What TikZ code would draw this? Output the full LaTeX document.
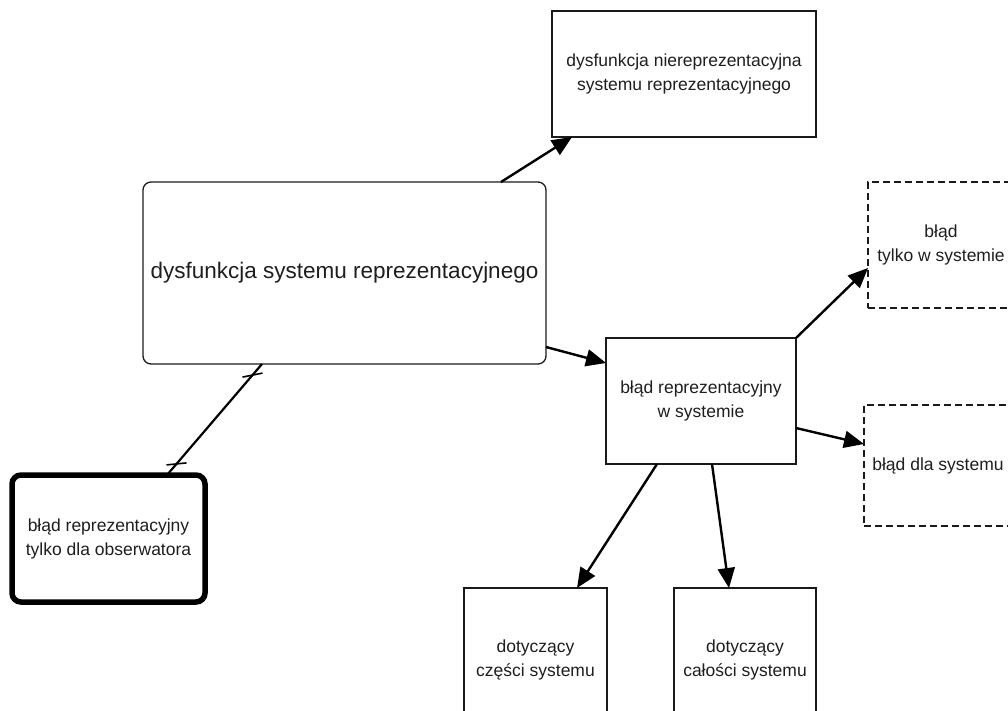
\documentclass[tikz,border=0pt]{standalone}
\usepackage{fontspec}
\setmainfont{Liberation Sans}
\usetikzlibrary{arrows.meta}
\definecolor{txt}{HTML}{1E1E1E}
\definecolor{edge}{HTML}{1A1A1A}
\tikzset{
  box/.style={draw=edge, line width=1.3pt, rectangle, outer sep=0pt, inner sep=0pt, align=center, text=txt, font=\fontsize{17.5}{24}\selectfont},
  rbox/.style={box, rounded corners=8pt},
  dbox/.style={box, dashed, dash pattern=on 7pt off 4pt},
  thickbox/.style={box, draw=black, rounded corners=9pt, line width=5.5pt},
  conn/.style={line width=2.4pt, draw=black, -{Triangle[length=20pt,width=17pt]}},
  plain/.style={line width=2.2pt, draw=black},
  tick/.style={line width=1.6pt, draw=black}
}
\begin{document}
\begin{tikzpicture}[x=1pt,y=-1pt]
\useasboundingbox (0,0) rectangle (1008,710);
\begin{scope}
\clip (0,0) rectangle (1008,710);
\node[box, minimum width=264pt, minimum height=126pt] (top) at (684,74) {dysfunkcja niereprezentacyjna\\systemu reprezentacyjnego};
\node[rbox, minimum width=403pt, minimum height=182pt, font=\fontsize{22.5}{28}\selectfont] (big) at (344.5,273) {dysfunkcja systemu reprezentacyjnego};
\node[box, minimum width=190pt, minimum height=126pt] (mid) at (701,401) {błąd reprezentacyjny\\w systemie};
\node[dbox, minimum width=146pt, minimum height=126pt] (d1) at (941,245) {błąd\\tylko w systemie};
\node[dbox, minimum width=148pt, minimum height=121pt] (d2) at (938,465.5) {błąd dla systemu};
\node[thickbox, minimum width=193pt, minimum height=127pt] (th) at (108.5,538.5) {błąd reprezentacyjny\\tylko dla obserwatora};
\node[box, minimum width=143pt, minimum height=144pt] (b1) at (535.5,660) {dotyczący\\części systemu};
\node[box, minimum width=142pt, minimum height=144pt] (b2) at (745,660) {dotyczący\\całości systemu};

\draw[conn] ([xshift=156.5pt]big.north) -- ([xshift=20pt]top.south west);
\draw[conn] ([yshift=-74pt]big.east) -- ([yshift=38pt]mid.west);
\draw[conn] (mid.north east) -- ([yshift=-23pt]d1.west);
\draw[conn] ([yshift=-27pt]mid.east) -- ([yshift=21.5pt]d2.west);
\draw[conn] ([xshift=-44pt]mid.south) -- ([xshift=41.5pt]b1.north);
\draw[conn] ([xshift=11pt]mid.south) -- ([xshift=-16pt]b2.north);

\draw[plain] ([xshift=-82.5pt]big.south) -- ([xshift=58.5pt]th.north)
  coordinate[pos=0.1] (t1) coordinate[pos=0.9] (t2);
\draw[tick] ([xshift=-10pt,yshift=-2pt]t1) -- ([xshift=10pt,yshift=2pt]t1);
\draw[tick] ([xshift=-10pt,yshift=-1pt]t2) -- ([xshift=10pt,yshift=1pt]t2);
\end{scope}
\end{tikzpicture}
\end{document}
